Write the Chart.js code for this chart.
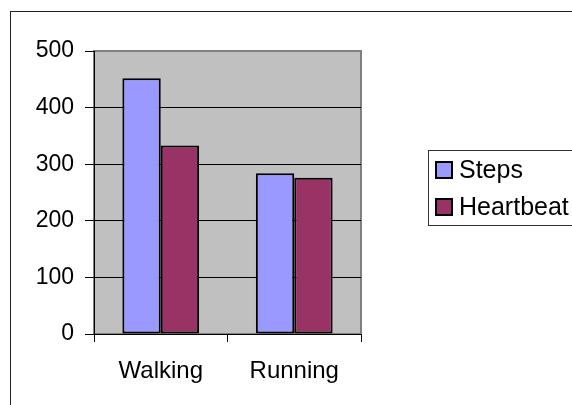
<!DOCTYPE html>
<html>
<head>
<meta charset="utf-8">
<script src="https://cdn.jsdelivr.net/npm/chart.js@4"></script>
<style>
  html, body { margin: 0; padding: 0; background: #fff; }
  #wrap { width: 572px; height: 405px; position: relative; }
</style>
</head>
<body>
<div id="wrap"><canvas id="chart"></canvas></div>
<script>
var categories = ['Walking', 'Running'];
var seriesNames = ['Steps', 'Heartbeat'];
var stepsValues = [452, 284];
var heartbeatValues = [333, 276];
var seriesColors = ['#9999FF', '#993366'];
var yTicks = [0, 100, 200, 300, 400, 500];

var FONT = 'Liberation Sans, Arial, sans-serif';

// frame, grey plot area and the boxed legend, Excel style
var excelFrame = {
  id: 'excelFrame',
  beforeDraw: function(chart) {
    var ctx = chart.ctx, a = chart.chartArea;
    ctx.save();
    ctx.fillStyle = '#fff';
    ctx.fillRect(0, 0, chart.width, chart.height);
    ctx.strokeStyle = '#222';
    ctx.lineWidth = 1;
    ctx.strokeRect(10.5, 11.5, chart.width + 10, chart.height + 10);
    ctx.fillStyle = '#C0C0C0';
    ctx.fillRect(a.left, a.top, a.right - a.left, a.bottom - a.top);
    ctx.strokeStyle = '#808080';
    ctx.lineWidth = 2;
    ctx.strokeRect(a.left, a.top, a.right - a.left, a.bottom - a.top);
    ctx.restore();
  },
  afterDraw: function(chart) {
    var ctx = chart.ctx;
    ctx.save();
    ctx.strokeStyle = '#333';
    ctx.lineWidth = 1;
    ctx.strokeRect(428.5, 150.5, 200, 75);
    chart.data.datasets.forEach(function(ds, i) {
      var y = 162 + i * 37;
      ctx.fillStyle = ds.backgroundColor;
      ctx.fillRect(436, y, 16, 16);
      ctx.strokeStyle = '#000';
      ctx.lineWidth = 2;
      ctx.strokeRect(436, y, 16, 16);
      ctx.fillStyle = '#000';
      ctx.font = '25px ' + FONT;
      ctx.textBaseline = 'middle';
      ctx.fillText(ds.label, 459, y + 9);
    });
    ctx.restore();
  }
};

new Chart(document.getElementById('chart'), {
  type: 'bar',
  data: {
    labels: categories,
    datasets: [
      { label: seriesNames[0], data: stepsValues, backgroundColor: seriesColors[0] },
      { label: seriesNames[1], data: heartbeatValues, backgroundColor: seriesColors[1] }
    ]
  },
  options: {
    responsive: true,
    maintainAspectRatio: false,
    animation: false,
    devicePixelRatio: 1,
    layout: { padding: { left: 0, right: 211, top: 51, bottom: 0 } },
    datasets: {
      bar: {
        borderColor: '#000',
        borderWidth: 2,
        borderSkipped: false,
        barPercentage: 1,
        categoryPercentage: 0.575
      }
    },
    plugins: {
      legend: { display: false },
      tooltip: { enabled: false }
    },
    scales: {
      x: {
        offset: true,
        afterFit: function(s) { s.height = 71; },
        border: { color: '#000', width: 1 },
        grid: { offset: true, drawOnChartArea: false, drawTicks: true, tickLength: 8, color: '#000' },
        ticks: { color: '#000', font: { family: FONT, size: 24 }, padding: 15 }
      },
      y: {
        min: 0,
        max: 500,
        afterFit: function(s) { s.width = 94; },
        afterBuildTicks: function(s) { s.ticks = yTicks.map(function(v) { return { value: v }; }); },
        border: { color: '#000', width: 1 },
        grid: {
          color: function(c) { return c.tick && c.tick.value === 500 ? '#808080' : '#000'; },
          tickColor: '#000',
          tickLength: 9,
          lineWidth: 1
        },
        ticks: { color: '#000', font: { family: FONT, size: 23 }, padding: 11 }
      }
    }
  },
  plugins: [excelFrame]
});
</script>
</body>
</html>
